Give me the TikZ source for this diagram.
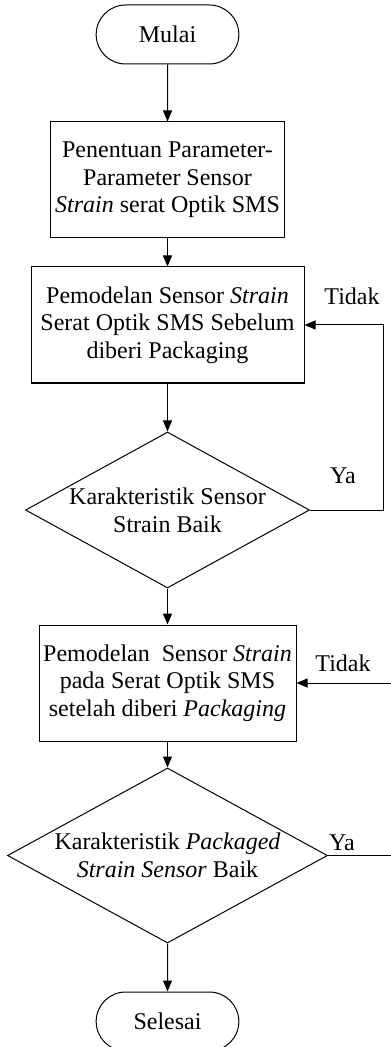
\documentclass[tikz,border=0pt]{standalone}
\usepackage{fontspec}
\setmainfont{Liberation Serif}
\usetikzlibrary{arrows.meta, calc, shapes.geometric, shapes.misc}

\begin{document}
\begin{tikzpicture}[x=0.5pt, y=-0.5pt, >={Triangle[length=5.5pt, width=4.5pt]}, line width=0.5pt,
  every node/.style={font=\fontsize{12}{13.8}\selectfont},
  terminal/.style={draw, rounded rectangle, minimum width=78pt, minimum height=29.5pt},
  process/.style={draw, align=center, minimum height=58pt, inner sep=1pt},
  decision/.style={draw, diamond, inner sep=0pt}]
  \useasboundingbox (0,0) rectangle (390,1047);

  \node[terminal] (mulai) at (167.5,34.5) {Mulai};
  \node[process, minimum width=117pt] (tentu) at (167.5,180) {Penentuan Parameter-\\Parameter Sensor\\\textit{Strain} serat Optik SMS};
  \node[process, minimum width=136.5pt] (model1) at (167.5,325) {Pemodelan Sensor \textit{Strain}\\Serat Optik SMS Sebelum\\diberi Packaging};
  \node[decision, minimum width=142pt, minimum height=78pt,
        label={[align=center]center:{Karakteristik Sensor\\Strain Baik}}] (cek1) at (167.5,510) {};
  \node[process, minimum width=128.5pt] (model2) at (167.5,683) {Pemodelan\ \ Sensor \textit{Strain}\\pada Serat Optik SMS\\setelah diberi \textit{Packaging}};
  \node[decision, minimum width=160pt, minimum height=87.5pt,
        label={[align=center]center:{Karakteristik \textit{Packaged}\\\textit{Strain Sensor} Baik}}] (cek2) at (167.5,855.5) {};
  \node[terminal] (selesai) at (167.5,1021.5) {Selesai};

  % main flow
  \draw[->] (mulai) -- (tentu);
  \draw[->] (tentu) -- (model1);
  \draw[->] (model1) -- (cek1);
  \draw[->] (cek1) -- (model2);
  \draw[->] (model2) -- (cek2);
  \draw[->] (cek2) -- (selesai);

  % loop back after the first check
  \draw[->] (cek1.east) -- ++(73,0) |- (model1.east);
  \node (tidak1) at (352,296) {Tidak};
  \node (ya1) at (343,476) {Ya};

  % lines leaving the page on the right
  \coordinate (out2) at (395,855.5);
  \coordinate (in2) at (395,683);
  \draw (cek2.east) -- (out2);
  \draw[->] (in2) -- (model2.east);
  \node (tidak2) at (343,663) {Tidak};
  \node (ya2) at (342,843) {Ya};
\end{tikzpicture}
\end{document}
